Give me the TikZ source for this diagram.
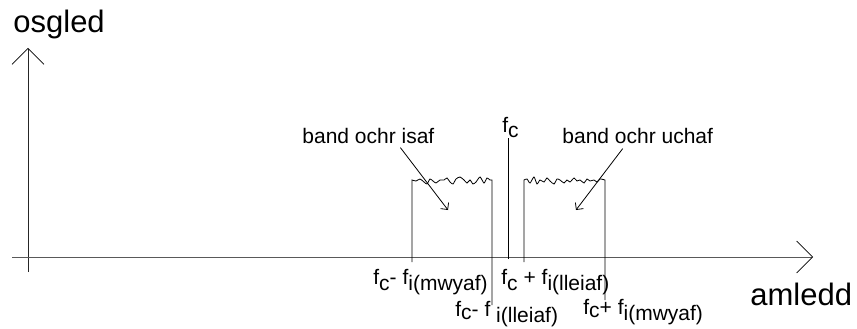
\documentclass[tikz,border=0pt]{standalone}
\usepackage{fontspec}
\setmainfont{Liberation Sans}
\usepackage{tikz}
\usetikzlibrary{arrows.meta, positioning, calc}
\newcommand{\lowsub}[1]{\raisebox{-6pt}{#1}}

\begin{document}
\begin{tikzpicture}[x=1pt, y=-1pt, line width=0.8pt,
    every node/.style={font=\fontsize{21}{23}\selectfont, inner sep=0pt},
    bigtxt/.style={font=\fontsize{31}{33}\selectfont},
    axisline/.style={-{Straight Barb[length=16pt, width=32pt, black, line width=0.6pt]}},
    ptr/.style={-{Straight Barb[length=5pt, width=10pt]}}]
  \useasboundingbox (0,0) rectangle (857,329);
  % axes
  \draw[axisline, black!85] (28,272) -- (28,48);
  \draw[axisline, gray!70!black] (12,257) -- (813,257);
  \node[bigtxt, anchor=base west] (ylbl) at (13,33) {osgled};
  \node[bigtxt, anchor=base west] (xlbl) at (750,305) {amledd};
  % spectrum
  \coordinate (loL) at (412,262);
  \coordinate (loR) at (492,305);
  \coordinate (upL) at (524,262);
  \coordinate (upR) at (605,300);
  \coordinate (carrier) at (508,259);
  \draw (loL) -- plot[smooth, tension=0.4] coordinates {(412,180) (416,181) (420,179) (424,182) (427,184)
    (430,179) (433,181) (436,183) (440,180) (444,180) (447,178) (450,182) (453,184) (456,179) (460,177)
    (464,180) (467,183) (470,180) (473,184) (476,182) (480,177) (484,183) (487,178) (490,180) (492,180)} -- (loR);
  \draw (upL) -- plot[smooth, tension=0.4] coordinates {(524,180) (527,179) (530,183) (534,177) (537,184)
    (540,180) (544,182) (547,178) (550,181) (554,184) (557,179) (560,180) (564,183) (567,180) (570,182)
    (574,178) (577,181) (580,180) (584,183) (587,179) (590,181) (594,180) (597,182) (600,179) (605,180)} -- (upR);
  \node[anchor=base west] (fclbl) at (502,132) {f\raisebox{-5pt}{c}};
  \draw (carrier) -- (carrier |- fclbl.south);
  % band labels
  \node[anchor=base west] (lowlbl) at (302,143) {band ochr isaf};
  \node[anchor=base west] (uplbl) at (562,143) {band ochr uchaf};
  \coordinate (lowtip) at (448,210);
  \coordinate (uptip) at (576,210);
  \draw[ptr] ([xshift=32pt, yshift=-4pt]lowlbl.south) -- (lowtip);
  \draw[ptr] ([xshift=-15pt, yshift=-5pt]uplbl.south) -- (uptip);
  % frequency labels
  \node[anchor=base west] (lbllomax) at (373,284) {f\lowsub{c}- f\lowsub{i(mwyaf)}};
  \node[anchor=base west] (lblupmin) at (501,284) {f\lowsub{c} + f\lowsub{i(lleiaf)}};
  \node[anchor=base west] (lbllomin) at (455,316) {f\raisebox{-3pt}{c}- f \lowsub{i(lleiaf)}};
  \node[anchor=base west] (lblupmax) at (583,314) {f\raisebox{-3pt}{c}+ f\lowsub{i(mwyaf)}};
\end{tikzpicture}
\end{document}
